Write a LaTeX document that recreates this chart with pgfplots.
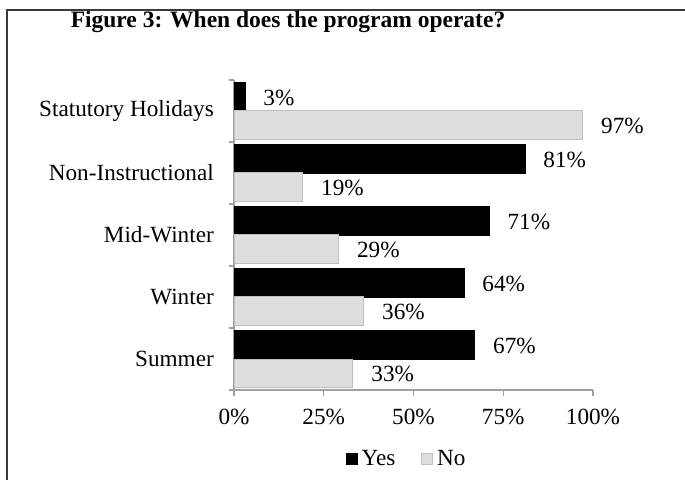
\documentclass[border=0pt]{standalone}
\usepackage{pgfplots}
\pgfplotsset{compat=1.18}
\usepackage{pgfplotstable}
\usepackage{fontspec}
\setmainfont{Liberation Serif}
\newcommand\cf{\fontsize{23.2}{27}\selectfont}
\definecolor{axgray}{HTML}{A0A0A0}
\definecolor{nofill}{HTML}{DEDEDE}
\definecolor{nodraw}{HTML}{BFBFBF}
\definecolor{framec}{HTML}{3A3A3A}

\pgfplotstableread{
y yes no
0 67 33
1 64 36
2 71 29
3 81 19
4 3 97
}\datatable

\begin{document}
\begin{tikzpicture}
\useasboundingbox (0,0) rectangle (685pt,479pt);
\draw[framec, line width=1.6pt] (7pt,-5pt) -- (7pt,469pt) -- (700pt,469pt);
\node[font=\fontsize{23.5}{28}\selectfont\bfseries, anchor=base, inner sep=0pt] at (288pt,451pt) {Figure 3: When does the program operate?};
\begin{axis}[
 at={(234pt,89pt)}, anchor=south west,
 scale only axis, width=359pt, height=310pt,
 xbar, bar width=0.46,
 xmin=0, xmax=100, ymin=-0.5, ymax=4.5,
 clip=false,
 axis lines*=left,
 axis line style={axgray, line width=1.1pt},
 xtick={0,25,50,75,100},
 xticklabels={0\%,25\%,50\%,75\%,100\%},
 ytick={0,1,2,3,4},
 yticklabels={Summer,Winter,Mid-Winter,Non-Instructional,Statutory Holidays},
 minor ytick={-0.5,0.5,1.5,2.5,3.5,4.5},
 tick align=outside,
 major tick length=6pt, minor tick length=5.5pt,
 tick style={axgray, line width=1.1pt},
 every major y tick/.append style={draw=none},
 tick label style={font=\cf, text=black},
 xticklabel style={inner sep=0pt, yshift=-13pt},
 yticklabel style={inner sep=0pt, xshift=-14pt},
 /pgf/number format/assume math mode=true,
 point meta=x,
 nodes near coords={\pgfmathprintnumber{\pgfplotspointmeta}\%},
 every node near coord/.append style={font=\cf, anchor=west, inner sep=0pt, xshift=18.5pt, yshift=-1pt, text=black},
 legend image code/.code={\draw[#1] (0pt,-5.6pt) rectangle (11.5pt,5.6pt);},
 legend style={at={(0.478,-0.2226)}, anchor=center, draw=none, fill=none,
   legend columns=2, font=\cf, inner sep=0pt,
   /tikz/every even column/.append style={column sep=25pt},
   /tikz/every odd column/.append style={column sep=4pt},
   nodes={inner sep=0pt}},
]
\addplot[fill=black, draw=black, bar shift=0.23] table[x=yes,y=y]{\datatable};
\addplot[fill=nofill, draw=nodraw, line width=1pt, bar shift=-0.23] table[x=no,y=y]{\datatable};
\legend{Yes,No}
\end{axis}
\end{tikzpicture}
\end{document}
